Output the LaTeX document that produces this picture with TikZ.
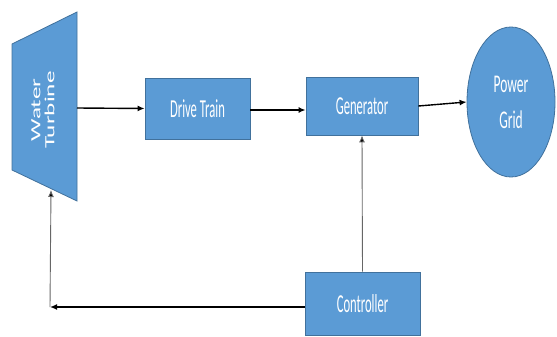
\documentclass[tikz,border=0pt]{standalone}
\usepackage{fontspec}
\setmainfont{Carlito}
\usepackage{graphicx}
\usetikzlibrary{arrows.meta,shapes.geometric}
\definecolor{boxblue}{HTML}{5B9BD5}
\definecolor{boxedge}{HTML}{41719C}
\newcommand{\stretchtxt}[1]{\scalebox{0.9}[1.85]{#1}}
\tikzset{
  blockbox/.style={draw=boxedge, line width=0.8pt, fill=boxblue, text=white, inner sep=0pt, font=\fontsize{14}{14}\selectfont},
  conn/.style={line width=1.4pt, -{Latex[length=7pt,width=6pt]}},
  thinconn/.style={draw=black!60, line width=0.9pt, -{Latex[length=7pt,width=6pt,fill=black]}},
}
\begin{document}
\begin{tikzpicture}[x=1pt,y=-1pt]
\useasboundingbox (0,0) rectangle (557,337);
% turbine shape
\filldraw[draw=boxedge, line width=0.8pt, fill=boxblue] (12,44) -- (77,12) -- (77,201) -- (12,170) -- cycle;
\node[text=white, rotate=90, align=center, font=\fontsize{14}{15}\selectfont] (turb) at (43,110) {\scalebox{1.8}[1]{Water}\\[-1pt]\scalebox{1.8}[1]{Turbine}};
\coordinate (turbR) at (77,108);
\coordinate (turbB) at (51,190);
\coordinate (corner) at (50,307);
% blocks
\node[blockbox, minimum width=105pt, minimum height=61pt] (drive) at (197.5,108.5) {\stretchtxt{Drive Train}};
\node[blockbox, minimum width=112pt, minimum height=58pt] (gen) at (362,106) {\stretchtxt{Generator}};
\node[blockbox, minimum width=115pt, minimum height=63pt] (ctrl) at (362.5,303.5) {\stretchtxt{Controller}};
\node[blockbox, ellipse, minimum width=88pt, minimum height=150pt, align=center, font=\fontsize{15}{36}\selectfont] (grid) at (511,102) {\scalebox{0.9}[1.7]{Power}\\\scalebox{0.9}[1.7]{Grid}};
% connectors
\draw[conn] (turbR) -- (drive.west);
\draw[conn] (drive.east |- 0,110) -- (gen.west |- 0,110);
\draw[conn] (gen.east) -- (grid.west);
\draw[thinconn] (ctrl.north) -- (gen.south);
\draw[conn] (ctrl.west |- corner) -- (corner);
\draw[thinconn] (corner) -- (turbB);
\end{tikzpicture}
\end{document}
